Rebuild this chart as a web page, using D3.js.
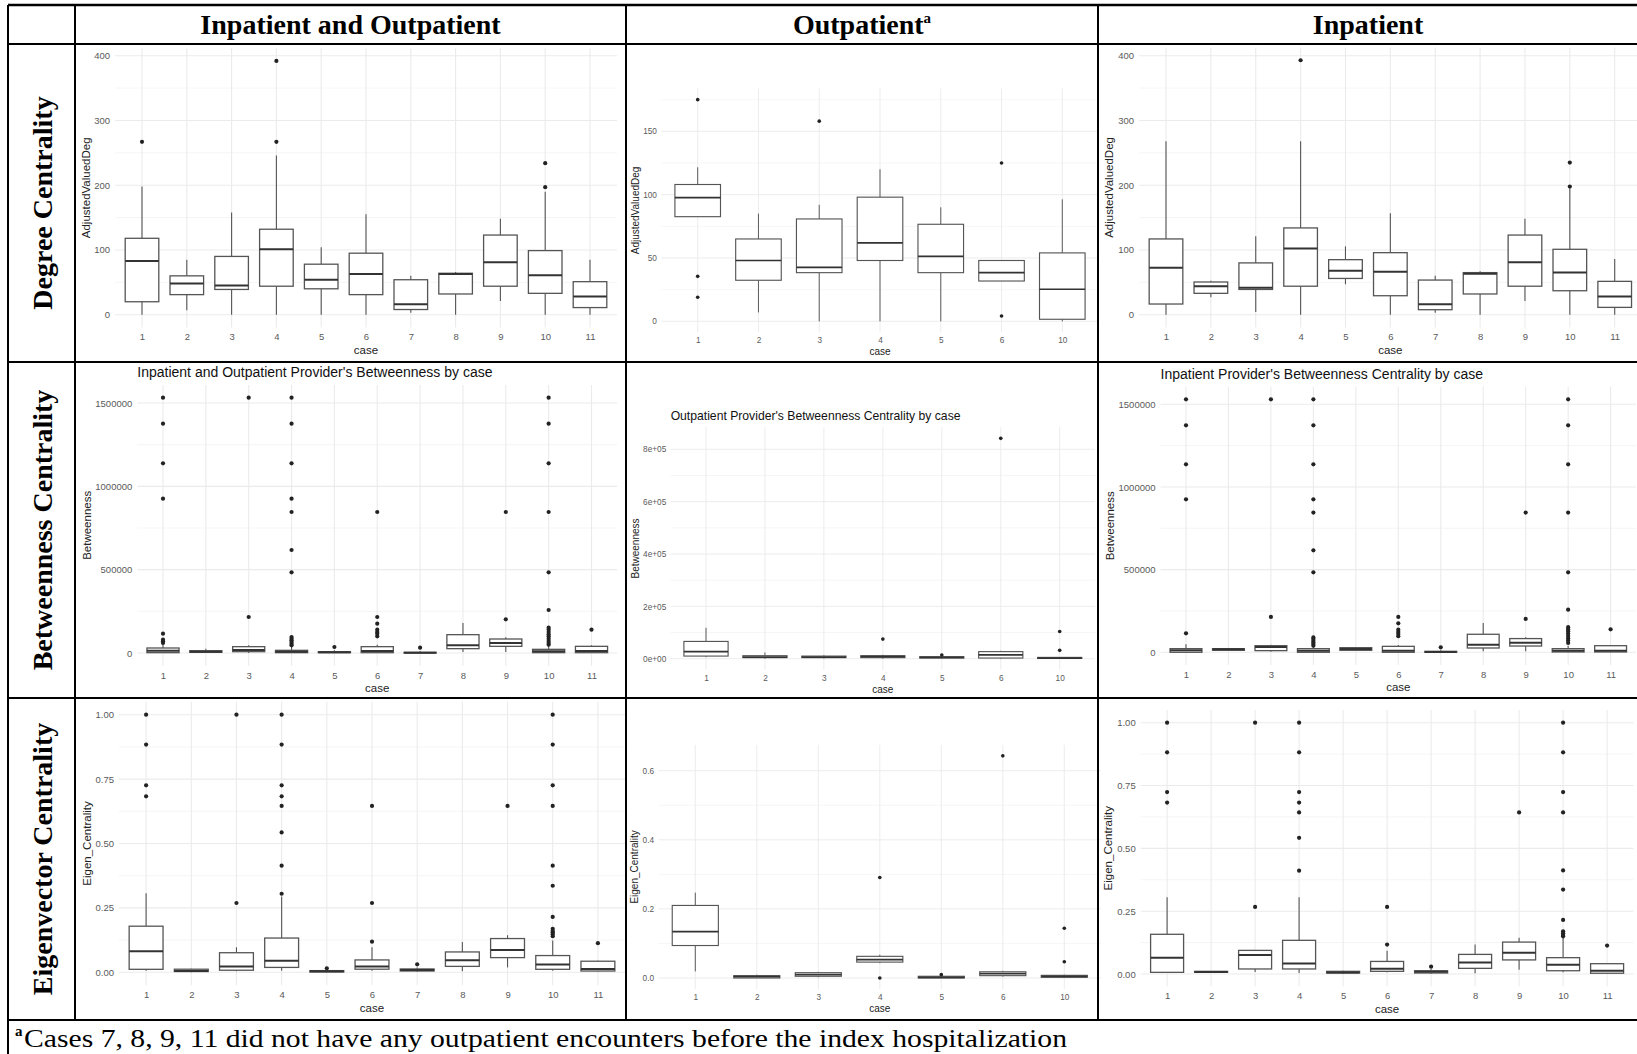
<!DOCTYPE html>
<html>
<head>
<meta charset="utf-8">
<script src="https://cdn.jsdelivr.net/npm/d3@7"></script>
<style>
  body { margin: 0; background: #fff; }
  svg { display: block; }
</style>
</head>
<body>
<svg id="chart" width="1637" height="1054"></svg>
<script>
// ---- categories ----
const casesAll = ["1", "2", "3", "4", "5", "6", "7", "8", "9", "10", "11"];
const casesOut = ["1", "2", "3", "4", "5", "6", "10"];

// ---- box stats, one row per case: [lowWhisker, q1, median, q3, highWhisker, outliers] ----
const degreeBoth = [
  [0, 20, 83, 118, 198, [267]],
  [7, 31, 48, 60, 85, []],
  [0, 39, 45, 90, 158, []],
  [0, 44, 101, 132, 246, [267, 392]],
  [0, 40, 54, 78, 104, []],
  [0, 31, 63, 95, 155, []],
  [3, 8, 16, 54, 60, []],
  [0, 32, 63, 64, 66, []],
  [21, 44, 81, 123, 148, []],
  [0, 33, 61, 99, 190, [197, 234]],
  [0, 11, 28, 51, 85, []]
];
const degreeOut = [
  [82.6, 82.6, 97.6, 108, 121.6, [19, 35.5, 175]],
  [7, 32.4, 48, 65, 85, []],
  [0, 38.4, 42.6, 80.8, 92, [158]],
  [0, 48, 62, 98, 120, []],
  [0, 38.4, 51.3, 76.6, 90, []],
  [31.8, 31.8, 38.4, 48, 48, [4.2, 125]],
  [0, 1.6, 25.3, 54, 96.3, []]
];
const degreeIn = [
  [0, 16.5, 72.6, 117, 268, []],
  [27, 33, 44, 50.5, 52.5, []],
  [4, 39, 41.7, 80, 121, []],
  [0, 44, 102.4, 134, 268, [393]],
  [47, 56, 68, 85, 105.5, []],
  [0, 29.3, 66.4, 95.8, 156.5, []],
  [3, 7.7, 16, 53.5, 60, []],
  [0, 32, 63.3, 65, 67, []],
  [21, 44, 81, 123, 148, []],
  [0, 37, 65, 101, 196, [198, 235]],
  [0, 11.3, 28.3, 51.5, 86, []]
];
const betweenBoth = [
  [0, 2000, 14000, 30000, 50000, [60000, 70000, 80000, 116000, 926000, 1138000, 1376000, 1532000]],
  [0, 4000, 8000, 14000, 26000, []],
  [0, 8000, 18000, 38000, 46000, [216000, 1532000]],
  [0, 2000, 8000, 16000, 36000, [46000, 56000, 66000, 76000, 86000, 96000, 484000, 618000, 846000, 926000, 1138000, 1376000, 1532000]],
  [0, 2000, 4000, 8000, 16000, [36000]],
  [0, 2000, 12000, 38000, 50000, [100000, 116000, 126000, 140000, 176000, 216000, 846000]],
  [0, 0, 2000, 4000, 10000, [32000]],
  [6000, 26000, 46000, 110000, 180000, []],
  [6000, 40000, 60000, 84000, 94000, [202000, 846000]],
  [0, 2000, 10000, 22000, 46000, [50000, 60000, 72000, 86000, 100000, 112000, 126000, 140000, 152000, 258000, 484000, 846000, 1138000, 1376000, 1532000]],
  [0, 2000, 12000, 40000, 46000, [140000]]
];
const betweenOut = [
  [6000, 10000, 27000, 66000, 118000, []],
  [0, 4000, 6000, 11500, 24000, []],
  [1000, 4000, 6000, 10000, 13000, []],
  [0, 4000, 7600, 11500, 15000, [75000]],
  [0, 2500, 5000, 7600, 10000, [14000]],
  [0, 2500, 15000, 27000, 30000, [842000]],
  [0, 1000, 2500, 5000, 5000, [32000, 104000]]
];
const betweenIn = [
  [0, 0, 12000, 22000, 48000, [115000, 925000, 1137000, 1373000, 1530000]],
  [8000, 12000, 18000, 22000, 26000, []],
  [4000, 10000, 32000, 40000, 46000, [214000, 1530000]],
  [0, 0, 10000, 22000, 38000, [40000, 50000, 60000, 70000, 80000, 90000, 484000, 617000, 845000, 925000, 1137000, 1373000, 1530000]],
  [8000, 12000, 20000, 28000, 32000, []],
  [0, 0, 10000, 36000, 44000, [97000, 111000, 123000, 137000, 175000, 214000]],
  [0, 0, 2000, 6000, 12000, [30000]],
  [6000, 26000, 46000, 109000, 177000, []],
  [6000, 38000, 58000, 83000, 91000, [202000, 845000]],
  [0, 2000, 10000, 22000, 40000, [57000, 71000, 85000, 99000, 113000, 127000, 140000, 152000, 258000, 484000, 845000, 1137000, 1373000, 1530000]],
  [0, 2000, 10000, 40000, 44000, [139000]]
];
const eigenBoth = [
  [0.006, 0.0116, 0.0815, 0.179, 0.307, [0.683, 0.726, 0.884, 1.0]],
  [0, 0.003, 0.005, 0.012, 0.014, []],
  [0.004, 0.008, 0.023, 0.076, 0.097, [0.269, 1.0]],
  [0.006, 0.019, 0.045, 0.133, 0.294, [0.305, 0.414, 0.543, 0.646, 0.683, 0.726, 0.884, 1.0]],
  [0, 0.001, 0.004, 0.0065, 0.009, [0.0155]],
  [0.006, 0.012, 0.023, 0.048, 0.097, [0.119, 0.269, 0.646]],
  [0.002, 0.005, 0.009, 0.013, 0.019, [0.031]],
  [0.004, 0.023, 0.0466, 0.079, 0.118, []],
  [0.019, 0.057, 0.087, 0.131, 0.144, [0.646]],
  [0.006, 0.0116, 0.03, 0.065, 0.123, [0.14, 0.148, 0.155, 0.16, 0.169, 0.215, 0.336, 0.414, 0.646, 0.726, 0.884, 1.0]],
  [0.003, 0.005, 0.013, 0.043, 0.045, [0.113]]
];
const eigenOut = [
  [0.019, 0.094, 0.134, 0.21, 0.247, []],
  [0, 0, 0.004, 0.0068, 0.0096, []],
  [0.002, 0.005, 0.0096, 0.0154, 0.018, []],
  [0.043, 0.046, 0.053, 0.0627, 0.0675, [0, 0.291]],
  [0, 0, 0.002, 0.005, 0.0068, [0.0096]],
  [0.004, 0.0068, 0.0125, 0.018, 0.021, [0.643]],
  [0, 0.002, 0.005, 0.0077, 0.0096, [0.047, 0.144]]
];
const eigenIn = [
  [0.004, 0.0066, 0.065, 0.158, 0.305, [0.682, 0.724, 0.882, 1.0]],
  [0.004, 0.0066, 0.008, 0.0106, 0.012, []],
  [0.008, 0.02, 0.0756, 0.094, 0.096, [0.267, 1.0]],
  [0.004, 0.02, 0.042, 0.134, 0.305, [0.411, 0.542, 0.643, 0.682, 0.724, 0.882, 1.0]],
  [0.001, 0.004, 0.006, 0.0106, 0.013, []],
  [0.0066, 0.0106, 0.021, 0.05, 0.093, [0.117, 0.267]],
  [0.001, 0.004, 0.009, 0.013, 0.02, [0.029]],
  [0.003, 0.0225, 0.046, 0.078, 0.117, []],
  [0.017, 0.056, 0.085, 0.127, 0.1446, [0.643]],
  [0.0066, 0.013, 0.037, 0.065, 0.146, [0.15, 0.155, 0.162, 0.17, 0.215, 0.336, 0.412, 0.643, 0.724, 0.882, 1.0]],
  [0.001, 0.003, 0.013, 0.041, 0.041, [0.113]]
];

// ---- axis ticks ----
const degTicks = [0, 100, 200, 300, 400];
const degOutTicks = [0, 50, 100, 150];
const betTicks = [0, 500000, 1000000, 1500000];
const betOutTicks = [0, 200000, 400000, 600000, 800000];
const betOutTickLabels = ["0e+00", "2e+05", "4e+05", "6e+05", "8e+05"];
const eigTicks = [0, 0.25, 0.5, 0.75, 1];
const eigTickLabels = ["0.00", "0.25", "0.50", "0.75", "1.00"];
const eigOutTicks = [0, 0.2, 0.4, 0.6];
const eigOutTickLabels = ["0.0", "0.2", "0.4", "0.6"];

// ---- table text ----
const colHeads = ["Inpatient and Outpatient", "Outpatient", "Inpatient"];
const rowHeads = ["Degree Centrality", "Betweenness Centrality", "Eigenvector Centrality"];
const footnote = "Cases 7, 8, 9, 11 did not have any outpatient encounters before the index hospitalization";

const svg = d3.select("#chart");
const serif = "'Liberation Serif', 'Times New Roman', serif";
const sans = "'Liberation Sans', Arial, sans-serif";

// table grid (pixel layout)
const colX = [8, 75, 626, 1098, 1638];
const rowY = [5, 44, 362, 698, 1020];

// panel placement: centre of first/last case and two y anchors
const panels = [
  { data: degreeBoth, cases: casesAll, ticks: degTicks, yTitle: "AdjustedValuedDeg",
    x1: 142, xn: 590, v0: 0, p0: 314.7, v1: 400, p1: 55.7, s: 1 },
  { data: degreeOut, cases: casesOut, ticks: degOutTicks, yTitle: "AdjustedValuedDeg",
    x1: 697.7, xn: 1062.3, v0: 0, p0: 321.3, v1: 150, p1: 131.3, s: 0.87 },
  { data: degreeIn, cases: casesAll, ticks: degTicks, yTitle: "AdjustedValuedDeg",
    x1: 1166, xn: 1614.7, v0: 0, p0: 314.7, v1: 400, p1: 55.7, s: 1 },
  { data: betweenBoth, cases: casesAll, ticks: betTicks, yTitle: "Betweenness",
    title: "Inpatient and Outpatient Provider's Betweenness by case",
    x1: 163, xn: 591.5, v0: 0, p0: 653, v1: 1500000, p1: 403, s: 1 },
  { data: betweenOut, cases: casesOut, ticks: betOutTicks, tickLabels: betOutTickLabels, yTitle: "Betweenness",
    title: "Outpatient Provider's Betweenness Centrality by case",
    x1: 706, xn: 1059.7, v0: 0, p0: 658.7, v1: 800000, p1: 449.3, s: 0.87 },
  { data: betweenIn, cases: casesAll, ticks: betTicks, yTitle: "Betweenness",
    title: "Inpatient Provider's Betweenness Centrality by case",
    x1: 1186, xn: 1610.6, v0: 0, p0: 652.3, v1: 1500000, p1: 404.3, s: 1 },
  { data: eigenBoth, cases: casesAll, ticks: eigTicks, tickLabels: eigTickLabels, yTitle: "Eigen_Centrality",
    x1: 146.1, xn: 597.9, v0: 0, p0: 972.3, v1: 1, p1: 714.7, s: 1 },
  { data: eigenOut, cases: casesOut, ticks: eigOutTicks, tickLabels: eigOutTickLabels, yTitle: "Eigen_Centrality",
    x1: 695.3, xn: 1064.3, v0: 0, p0: 978, v1: 0.6, p1: 770.7, s: 0.87 },
  { data: eigenIn, cases: casesAll, ticks: eigTicks, tickLabels: eigTickLabels, yTitle: "Eigen_Centrality",
    x1: 1167.1, xn: 1607.1, v0: 0, p0: 974, v1: 1, p1: 722.7, s: 1 }
];

function drawPanel(p) {
  const g = svg.append("g");
  const s = p.s;
  const n = p.cases.length;
  const step = (p.xn - p.x1) / (n - 1);
  const x = d3.scalePoint().domain(p.cases).range([p.x1, p.xn]);
  const y = d3.scaleLinear().domain([p.v0, p.v1]).range([p.p0, p.p1]);

  // ggplot style 5% expansion of the data range
  const vals = p.data.flatMap(d => [d[0], d[4], ...d[5]]);
  const lo = d3.min(vals), hi = d3.max(vals);
  const pad = (hi - lo) * 0.05;
  const left = p.x1 - 0.6 * step, right = p.xn + 0.6 * step;
  const top = y(hi + pad), bottom = y(lo - pad);

  // minor grid
  const tStep = p.ticks[1] - p.ticks[0];
  const minors = [];
  for (let v = p.ticks[0] - tStep / 2; v <= hi + pad; v += tStep) {
    if (v >= lo - pad) minors.push(v);
  }
  g.selectAll(".minor").data(minors).join("line")
    .attr("x1", left).attr("x2", right)
    .attr("y1", d => y(d)).attr("y2", d => y(d))
    .attr("stroke", "#f2f2f2").attr("stroke-width", 0.8 * s);
  // major grid
  g.selectAll(".major").data(p.ticks).join("line")
    .attr("x1", left).attr("x2", right)
    .attr("y1", d => y(d)).attr("y2", d => y(d))
    .attr("stroke", "#ebebeb").attr("stroke-width", 1.1 * s);
  g.selectAll(".vgrid").data(p.cases).join("line")
    .attr("x1", d => x(d)).attr("x2", d => x(d))
    .attr("y1", top).attr("y2", bottom)
    .attr("stroke", "#ebebeb").attr("stroke-width", 1.1 * s);

  // boxes
  const bw = step * 0.75;
  const boxes = g.selectAll(".box").data(p.data).join("g")
    .attr("transform", (d, i) => `translate(${x(p.cases[i])},0)`);
  boxes.append("line")
    .attr("y1", d => y(d[4])).attr("y2", d => y(d[3]))
    .attr("stroke", "#555").attr("stroke-width", 1.1 * s);
  boxes.append("line")
    .attr("y1", d => y(d[1])).attr("y2", d => y(d[0]))
    .attr("stroke", "#555").attr("stroke-width", 1.1 * s);
  boxes.append("rect")
    .attr("x", -bw / 2).attr("width", bw)
    .attr("y", d => y(d[3]))
    .attr("height", d => Math.max(0, y(d[1]) - y(d[3])))
    .attr("fill", "#fff").attr("stroke", "#555").attr("stroke-width", 1.3 * s);
  boxes.append("line")
    .attr("x1", -bw / 2).attr("x2", bw / 2)
    .attr("y1", d => y(d[2])).attr("y2", d => y(d[2]))
    .attr("stroke", "#333").attr("stroke-width", 2 * s);
  boxes.selectAll("circle").data(d => d[5]).join("circle")
    .attr("cy", d => y(d)).attr("r", 2.1 * s)
    .attr("fill", "#222");

  // axes
  const fsTick = 9.5 * s, fsTitle = 11.5 * s;
  const yAxis = g.append("g").attr("transform", `translate(${left},0)`)
    .call(d3.axisLeft(y).tickValues(p.ticks).tickSize(0).tickPadding(5 * s)
      .tickFormat((d, i) => p.tickLabels ? p.tickLabels[i] : String(d)));
  yAxis.select(".domain").remove();
  yAxis.selectAll("text").attr("font-family", sans).attr("font-size", fsTick).attr("fill", "#5a5a5a");

  const xAxis = g.append("g").attr("transform", `translate(0,${bottom})`)
    .call(d3.axisBottom(x).tickSize(0).tickPadding(6 * s));
  xAxis.select(".domain").remove();
  xAxis.selectAll("text").attr("font-family", sans).attr("font-size", fsTick).attr("fill", "#5a5a5a");

  const yb = yAxis.node().getBBox();
  g.append("text")
    .attr("transform", `translate(${left + yb.x - 3 * s - fsTitle * 0.5},${(top + bottom) / 2}) rotate(-90)`)
    .attr("text-anchor", "middle").attr("dominant-baseline", "central")
    .attr("font-family", sans).attr("font-size", fsTitle).attr("fill", "#222")
    .text(p.yTitle);
  g.append("text")
    .attr("x", (left + right) / 2).attr("y", bottom + 22.5 * s)
    .attr("text-anchor", "middle").attr("dominant-baseline", "central")
    .attr("font-family", sans).attr("font-size", fsTitle).attr("fill", "#222")
    .text("case");
  if (p.title) {
    g.append("text")
      .attr("x", left).attr("y", top - 12.5 * s)
      .attr("dominant-baseline", "central")
      .attr("font-family", sans).attr("font-size", 14 * s).attr("fill", "#111")
      .text(p.title);
  }
}

panels.forEach(drawPanel);

// ---- table ----
const lines = svg.append("g").attr("stroke", "#000");
rowY.forEach((yy, i) => {
  lines.append("line").attr("x1", colX[0]).attr("x2", 1637).attr("y1", yy).attr("y2", yy)
    .attr("stroke-width", i === 0 ? 2.5 : 2);
});
colX.slice(1, 4).forEach(xx => {
  lines.append("line").attr("x1", xx).attr("x2", xx).attr("y1", rowY[0]).attr("y2", rowY[4])
    .attr("stroke-width", 2);
});
lines.append("line").attr("x1", colX[0]).attr("x2", colX[0]).attr("y1", rowY[0]).attr("y2", 1054)
  .attr("stroke-width", 2);

// column headers
colHeads.forEach((t, i) => {
  const txt = svg.append("text")
    .attr("x", (colX[i + 1] + colX[i + 2]) / 2).attr("y", 34)
    .attr("text-anchor", "middle")
    .attr("font-family", serif).attr("font-weight", "bold").attr("font-size", 28)
    .text(t);
  if (t === "Outpatient") {
    txt.append("tspan").attr("font-size", 15).attr("dy", -11).text("a");
  }
});

// row headers
rowHeads.forEach((t, i) => {
  svg.append("text")
    .attr("transform", `translate(42,${(rowY[i + 1] + rowY[i + 2]) / 2}) rotate(-90)`)
    .attr("text-anchor", "middle").attr("dominant-baseline", "central")
    .attr("font-family", serif).attr("font-weight", "bold").attr("font-size", 28)
    .text(t);
});

// footnote
svg.append("text")
  .attr("x", 15).attr("y", 1036)
  .attr("font-family", serif).attr("font-weight", "bold").attr("font-size", 15)
  .text("a");
svg.append("text")
  .attr("x", 24).attr("y", 1047)
  .attr("font-family", serif).attr("font-size", 26)
  .attr("textLength", 1043).attr("lengthAdjust", "spacingAndGlyphs")
  .text(footnote);
</script>
</body>
</html>
